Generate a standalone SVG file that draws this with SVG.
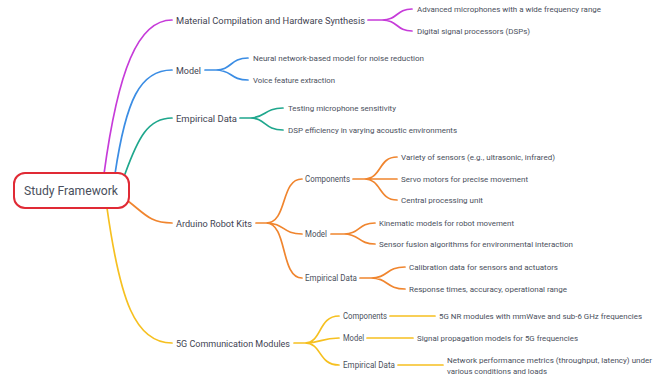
<svg xmlns="http://www.w3.org/2000/svg" width="667" height="378" viewBox="0 0 667 378">
<style>
text{font-family:"Roboto","Liberation Sans",sans-serif;fill:#4a4f5c;dominant-baseline:central}
.m{font-size:9.5px;fill:#3f4452}
.s{font-size:8.2px}
.l{font-size:7.8px}
.c path{fill:none;stroke-width:1.7;stroke-linecap:round}
.pu{stroke:#c63bd9}.bl{stroke:#3b8de4}.te{stroke:#1fa78d}.or{stroke:#f0852e}.ye{stroke:#f6c020}
</style>
<rect width="667" height="378" fill="#fff"/>
<g class="c" id="connectors">
<path class="pu" d="M104,174 C118,70 138,20 172,20"/>
<path class="bl" d="M115,174 C126,100 140,70 172,70"/>
<path class="te" d="M125,174 C138,138 148,118 172,118"/>
<path class="or" d="M128,201 C145,214 150,223 172,223"/>
<path class="ye" d="M107,208 C120,300 135,343 172,343"/>
<path class="pu" d="M368,20 H382 M382,20 C398,20 396,9 412,9 M382,20 C398,20 396,31 412,31"/>
<path class="bl" d="M205,70 H216 M216,70 C232,70 230,58 248,58 M216,70 C232,70 230,80 248,80"/>
<path class="te" d="M240,118 H250 M250,118 C266,118 264,108 283,108 M250,118 C266,118 264,130 283,130"/>
<path class="or" d="M256,223 H266 M266,223 C288,223 280,179 302,179 M266,223 C285,223 282,234 302,234 M266,223 C288,223 280,278 302,278"/>
<path class="or" d="M353,179 H364 M364,179 C382,179 378,157 397,157 M364,179 H397 M364,179 C382,179 378,200 397,200"/>
<path class="or" d="M331,234 H344 M344,234 C360,234 358,223 375,223 M344,234 C360,234 358,244 375,244"/>
<path class="or" d="M360,278 H371 M371,278 C388,278 386,267 405,267 M371,278 C388,278 386,289 405,289"/>
<path class="ye" d="M294,343 H305 M305,343 C322,343 318,316 339,316 M305,343 C322,343 320,338 339,338 M305,343 C322,343 318,365 339,365"/>
<path class="ye" d="M390,316 H435 M367,338 H413 M398,365 H443"/>
</g>
<g id="root">
<rect x="14" y="173" width="115" height="35" rx="11" fill="#fff" stroke="#e02a35" stroke-width="2"/>
<text x="71" y="190.5" text-anchor="middle" font-size="13" fill="#3f4452" textLength="94" lengthAdjust="spacingAndGlyphs">Study Framework</text>
</g>
<g id="n-material"><text class="m" x="176" y="20" textLength="189" lengthAdjust="spacingAndGlyphs">Material Compilation and Hardware Synthesis</text></g>
<g id="n-material-1"><text class="l" x="417" y="9" textLength="184" lengthAdjust="spacingAndGlyphs">Advanced microphones with a wide frequency range</text></g>
<g id="n-material-2"><text class="l" x="417" y="31" textLength="113" lengthAdjust="spacingAndGlyphs">Digital signal processors (DSPs)</text></g>
<g id="n-model"><text class="m" x="176" y="70" textLength="25" lengthAdjust="spacingAndGlyphs">Model</text></g>
<g id="n-model-1"><text class="l" x="253" y="58" textLength="171" lengthAdjust="spacingAndGlyphs">Neural network-based model for noise reduction</text></g>
<g id="n-model-2"><text class="l" x="253" y="80" textLength="82" lengthAdjust="spacingAndGlyphs">Voice feature extraction</text></g>
<g id="n-emp"><text class="m" x="176" y="118" textLength="61" lengthAdjust="spacingAndGlyphs">Empirical Data</text></g>
<g id="n-emp-1"><text class="l" x="288" y="108" textLength="108" lengthAdjust="spacingAndGlyphs">Testing microphone sensitivity</text></g>
<g id="n-emp-2"><text class="l" x="288" y="130" textLength="169" lengthAdjust="spacingAndGlyphs">DSP efficiency in varying acoustic environments</text></g>
<g id="n-arduino"><text class="m" x="176" y="223" textLength="76" lengthAdjust="spacingAndGlyphs">Arduino Robot Kits</text></g>
<g id="n-ard-comp"><text class="s" x="305" y="179" textLength="45" lengthAdjust="spacingAndGlyphs">Components</text></g>
<g id="n-ard-comp-1"><text class="l" x="401" y="157" textLength="154" lengthAdjust="spacingAndGlyphs">Variety of sensors (e.g., ultrasonic, infrared)</text></g>
<g id="n-ard-comp-2"><text class="l" x="401" y="179" textLength="127" lengthAdjust="spacingAndGlyphs">Servo motors for precise movement</text></g>
<g id="n-ard-comp-3"><text class="l" x="401" y="200" textLength="82" lengthAdjust="spacingAndGlyphs">Central processing unit</text></g>
<g id="n-ard-model"><text class="s" x="305" y="234" textLength="22" lengthAdjust="spacingAndGlyphs">Model</text></g>
<g id="n-ard-model-1"><text class="l" x="379" y="223" textLength="135" lengthAdjust="spacingAndGlyphs">Kinematic models for robot movement</text></g>
<g id="n-ard-model-2"><text class="l" x="379" y="244" textLength="194" lengthAdjust="spacingAndGlyphs">Sensor fusion algorithms for environmental interaction</text></g>
<g id="n-ard-emp"><text class="s" x="305" y="278" textLength="52" lengthAdjust="spacingAndGlyphs">Empirical Data</text></g>
<g id="n-ard-emp-1"><text class="l" x="409" y="267" textLength="149" lengthAdjust="spacingAndGlyphs">Calibration data for sensors and actuators</text></g>
<g id="n-ard-emp-2"><text class="l" x="409" y="289" textLength="158" lengthAdjust="spacingAndGlyphs">Response times, accuracy, operational range</text></g>
<g id="n-5g"><text class="m" x="176" y="343" textLength="114" lengthAdjust="spacingAndGlyphs">5G Communication Modules</text></g>
<g id="n-5g-comp"><text class="s" x="343" y="316" textLength="44" lengthAdjust="spacingAndGlyphs">Components</text></g>
<g id="n-5g-comp-1"><text class="l" x="439" y="316" textLength="203" lengthAdjust="spacingAndGlyphs">5G NR modules with mmWave and sub-6 GHz frequencies</text></g>
<g id="n-5g-model"><text class="s" x="343" y="338" textLength="21" lengthAdjust="spacingAndGlyphs">Model</text></g>
<g id="n-5g-model-1"><text class="l" x="417" y="338" textLength="161" lengthAdjust="spacingAndGlyphs">Signal propagation models for 5G frequencies</text></g>
<g id="n-5g-emp"><text class="s" x="343" y="365" textLength="52" lengthAdjust="spacingAndGlyphs">Empirical Data</text></g>
<g id="n-5g-emp-1"><text class="l" x="447" y="360" textLength="205" lengthAdjust="spacingAndGlyphs">Network performance metrics (throughput, latency) under</text><text class="l" x="447" y="371" textLength="100" lengthAdjust="spacingAndGlyphs">various conditions and loads</text></g>
</svg>
